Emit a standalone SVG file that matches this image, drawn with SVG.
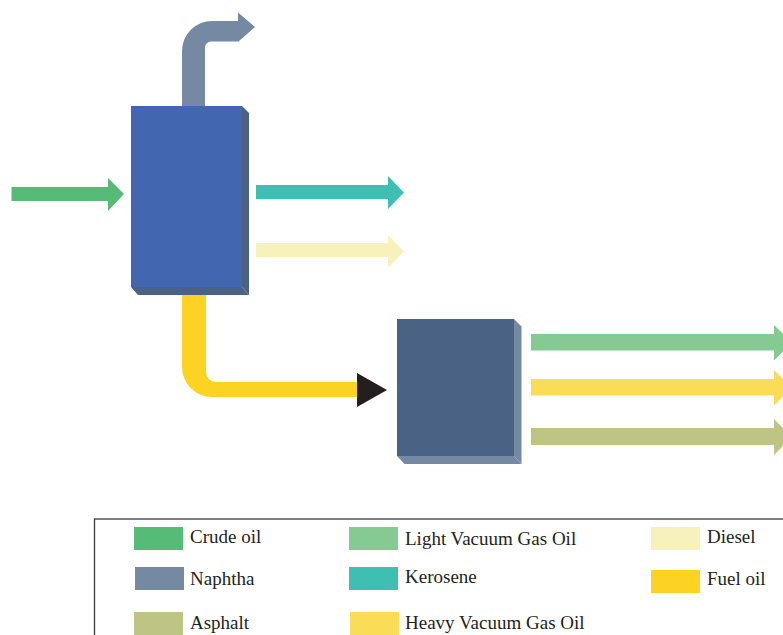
<svg xmlns="http://www.w3.org/2000/svg" width="783" height="635" viewBox="0 0 783 635">
<style>
.lbl{font-family:"Liberation Serif","Times New Roman",serif;font-size:19px;fill:#231f20}
</style>
<rect width="783" height="635" fill="#ffffff"/>
<g id="connectors">
  <polygon id="crude" fill="#57bb78" points="11.5,187 108,187 108,178 124,194 108,211 108,201 11.5,201"/>
  <path id="naphtha" fill="#7589a2" d="M182,106 L182,51 A30,30 0 0 1 212,21 L238,21 L238,12.5 L255,27 L238,42 L238,41.5 L211,41.5 A6,6 0 0 0 205,47.5 L205,106 Z"/>
  <polygon id="kerosene" fill="#3ebfb2" points="256,185 388,185 388,176 404,192.5 388,209 388,199 256,199"/>
  <polygon id="diesel" fill="#f7f1bc" points="256,243 388,243 388,235 404,251.5 388,268 388,257 256,257"/>
  <path id="fueloil" fill="#fcd223" d="M182,295 L206,295 L206,372 A10,10 0 0 0 216,382 L358,382 L358,397 L212,397 A30,30 0 0 1 182,367 Z"/>
  <polygon id="fuelhead" fill="#231f20" points="357,373 387,390 357,407"/>
  <polygon id="lvgo" fill="#85c993" points="531,334 774,334 774,325 792,342.5 774,360.5 774,350.5 531,350.5"/>
  <polygon id="hvgo" fill="#fbdc57" points="531,379 774,379 774,370 792,388 774,405.5 774,395.5 531,395.5"/>
  <polygon id="asphalt" fill="#bec483" points="531,428 774,428 774,419 792,437 774,455 774,445 531,445"/>
</g>
<g id="column1">
  <polygon fill="#4a6384" points="242,106 249,113 249,295 242,287"/>
  <polygon fill="#4a6384" points="131,287 242,287 249,295 138,295"/>
  <line x1="242" y1="287" x2="249" y2="295" stroke="#6d84a3" stroke-width="0.8"/>
  <rect x="131" y="106" width="111" height="181" fill="#4267b0"/>
</g>
<g id="column2">
  <polygon fill="#7589a2" points="514,319 521.5,326.5 521.5,464 514,456"/>
  <polygon fill="#7589a2" points="397,456 514,456 521.5,464 404.5,464"/>
  <line x1="514" y1="456" x2="521.5" y2="464" stroke="#94a5bb" stroke-width="0.8"/>
  <rect x="397" y="319" width="117" height="137" fill="#4a6384"/>
</g>
<g id="legend">
  <rect x="94.5" y="519" width="720" height="140" fill="none" stroke="#3a3a3a" stroke-width="1.3"/>
  <g id="lg-crude"><rect x="134" y="527" width="49" height="23" fill="#57bb78"/><text class="lbl" x="190" y="543">Crude oil</text></g>
  <g id="lg-lvgo"><rect x="349" y="527" width="49" height="23" fill="#85c993"/><text class="lbl" x="405" y="545">Light Vacuum Gas Oil</text></g>
  <g id="lg-diesel"><rect x="651" y="527" width="49" height="23" fill="#f7f1bc"/><text class="lbl" x="707" y="543">Diesel</text></g>
  <g id="lg-naphtha"><rect x="135" y="567" width="49" height="23" fill="#7589a2"/><text class="lbl" x="190" y="585">Naphtha</text></g>
  <g id="lg-kerosene"><rect x="349" y="567" width="49" height="23" fill="#3ebfb2"/><text class="lbl" x="405" y="583">Kerosene</text></g>
  <g id="lg-fueloil"><rect x="651" y="570" width="49" height="23" fill="#fcd223"/><text class="lbl" x="707" y="585">Fuel oil</text></g>
  <g id="lg-asphalt"><rect x="134" y="612" width="49" height="23" fill="#bec483"/><text class="lbl" x="190" y="629">Asphalt</text></g>
  <g id="lg-hvgo"><rect x="350" y="612" width="49" height="23" fill="#fbdc57"/><text class="lbl" x="405" y="629">Heavy Vacuum Gas Oil</text></g>
</g>
</svg>
